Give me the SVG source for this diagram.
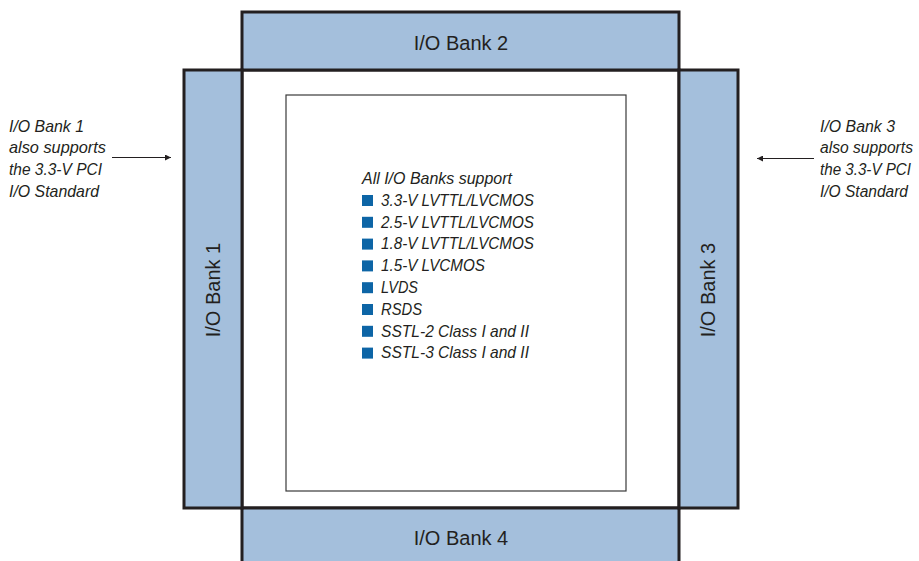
<svg xmlns="http://www.w3.org/2000/svg" width="919" height="561" viewBox="0 0 919 561">
  <style>
    .bank { fill: #a4bfdc; stroke: #231f20; stroke-width: 3; }
    .core { fill: #ffffff; stroke: #231f20; stroke-width: 3; }
    .inner { fill: #ffffff; stroke: #3a3a3a; stroke-width: 1.2; }
    .blabel { font-family: "Liberation Sans", Arial, sans-serif; font-size: 20px; fill: #231f20; }
    .note { font-family: "Liberation Sans", Arial, sans-serif; font-size: 17px; font-style: italic; fill: #231f20; }
    .rnote { font-size: 16px; }
    .bullet { fill: #0d65a6; }
    .conn { stroke: #231f20; stroke-width: 1.2; fill: none; marker-end: url(#arrow); }
  </style>
  <defs>
    <marker id="arrow" viewBox="0 0 10 10" refX="10" refY="5" markerUnits="userSpaceOnUse" markerWidth="9" markerHeight="6" orient="auto">
      <path d="M0,0 L10,5 L0,10 Z" fill="#231f20"/>
    </marker>
  </defs>
  <rect width="919" height="561" fill="#ffffff"/>

  <g id="core">
    <rect class="core" x="242" y="70" width="437" height="438"/>
    <rect class="inner" x="286" y="95" width="340" height="396"/>
  </g>

  <g id="bank2">
    <rect class="bank" x="242" y="12" width="437" height="58"/>
    <text class="blabel" x="461" y="50" text-anchor="middle">I/O Bank 2</text>
  </g>
  <g id="bank4">
    <rect class="bank" x="242" y="508" width="437" height="60"/>
    <text class="blabel" x="461" y="545" text-anchor="middle">I/O Bank 4</text>
  </g>
  <g id="bank1">
    <rect class="bank" x="184" y="70" width="58" height="438"/>
    <text class="blabel" transform="translate(219.5,290) rotate(-90)" text-anchor="middle">I/O Bank 1</text>
  </g>
  <g id="bank3">
    <rect class="bank" x="679" y="70" width="59" height="438"/>
    <text class="blabel" transform="translate(715,290) rotate(-90)" text-anchor="middle">I/O Bank 3</text>
  </g>

  <g id="standards">
    <text class="note" x="362" y="184" textLength="150" lengthAdjust="spacingAndGlyphs">All I/O Banks support</text>
    <rect class="bullet" x="362" y="195" width="11" height="11"/>
    <text class="note" x="381" y="205.8" textLength="153" lengthAdjust="spacingAndGlyphs">3.3-V LVTTL/LVCMOS</text>
    <rect class="bullet" x="362" y="216.8" width="11" height="11"/>
    <text class="note" x="381" y="227.6" textLength="153" lengthAdjust="spacingAndGlyphs">2.5-V LVTTL/LVCMOS</text>
    <rect class="bullet" x="362" y="238.6" width="11" height="11"/>
    <text class="note" x="381" y="249.4" textLength="153" lengthAdjust="spacingAndGlyphs">1.8-V LVTTL/LVCMOS</text>
    <rect class="bullet" x="362" y="260.4" width="11" height="11"/>
    <text class="note" x="381" y="271.2" textLength="104" lengthAdjust="spacingAndGlyphs">1.5-V LVCMOS</text>
    <rect class="bullet" x="362" y="282.2" width="11" height="11"/>
    <text class="note" x="381" y="293" textLength="37" lengthAdjust="spacingAndGlyphs">LVDS</text>
    <rect class="bullet" x="362" y="304" width="11" height="11"/>
    <text class="note" x="381" y="314.8" textLength="41" lengthAdjust="spacingAndGlyphs">RSDS</text>
    <rect class="bullet" x="362" y="325.8" width="11" height="11"/>
    <text class="note" x="381" y="336.6" textLength="148" lengthAdjust="spacingAndGlyphs">SSTL-2 Class I and II</text>
    <rect class="bullet" x="362" y="347.6" width="11" height="11"/>
    <text class="note" x="381" y="358.4" textLength="148" lengthAdjust="spacingAndGlyphs">SSTL-3 Class I and II</text>
  </g>

  <g id="note1">
    <text class="note" x="9" y="131.7" textLength="75" lengthAdjust="spacingAndGlyphs">I/O Bank 1</text>
    <text class="note" x="9" y="153.4" textLength="97" lengthAdjust="spacingAndGlyphs">also supports</text>
    <text class="note" x="9" y="175.1" textLength="93" lengthAdjust="spacingAndGlyphs">the 3.3-V PCI</text>
    <text class="note" x="9" y="196.8" textLength="90" lengthAdjust="spacingAndGlyphs">I/O Standard</text>
  </g>
  <g id="note3">
    <text class="note rnote" x="820" y="131.7" textLength="75" lengthAdjust="spacingAndGlyphs">I/O Bank 3</text>
    <text class="note rnote" x="820" y="153.4" textLength="93" lengthAdjust="spacingAndGlyphs">also supports</text>
    <text class="note rnote" x="820" y="175.1" textLength="91" lengthAdjust="spacingAndGlyphs">the 3.3-V PCI</text>
    <text class="note rnote" x="820" y="196.8" textLength="88" lengthAdjust="spacingAndGlyphs">I/O Standard</text>
  </g>

  <g id="connectors">
    <line class="conn" x1="112" y1="157.5" x2="171" y2="157.5"/>
    <line class="conn" x1="814" y1="158.5" x2="757" y2="158.5"/>
  </g>
</svg>
